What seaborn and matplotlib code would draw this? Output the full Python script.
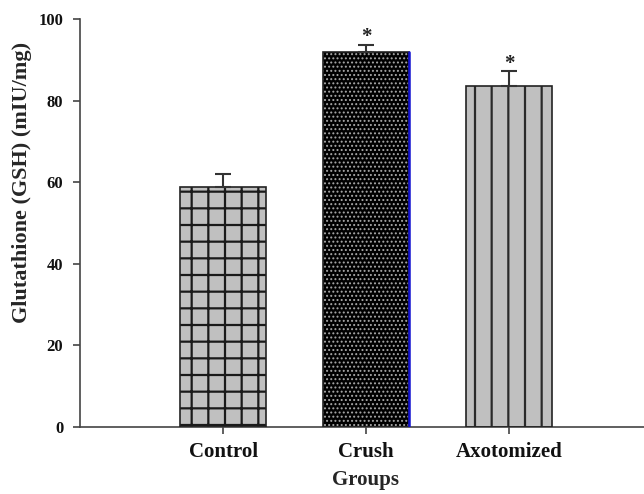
import matplotlib
matplotlib.use("Agg")
import matplotlib.pyplot as plt
import seaborn as sns
import pandas as pd

groups = ["Control", "Crush", "Axotomized"]
gsh_mean = [58.9, 91.9, 83.5]
gsh_sem = [3.0, 1.8, 3.7]
significance = ["", "*", "*"]
y_ticks = [0, 20, 40, 60, 80, 100]

sns.set_theme(style="ticks")
plt.rcParams["font.family"] = ["Liberation Serif", "DejaVu Serif"]
plt.rcParams["font.weight"] = "bold"
plt.rcParams["hatch.linewidth"] = 1.6

df = pd.DataFrame({"Group": groups, "GSH": gsh_mean})

fig = plt.figure(figsize=(6.44, 4.94), dpi=100)
ax = fig.add_axes([80 / 644, 67 / 494, 1 - 80 / 644, (427 - 19) / 494])

sns.barplot(data=df, x="Group", y="GSH", order=groups, width=0.6,
            color="#c0c0c0", errorbar=None, ax=ax, zorder=2)

styles = [
    dict(face="#c0c0c0", hatch="+", hcolor="#1a1a1a", hlw=1.6),
    dict(face="#000000", hatch="....", hcolor="#a8a8a8", hlw=0.9),
    dict(face="#c0c0c0", hatch="|", hcolor="#2a2a2a", hlw=1.6),
]
for patch, st in zip(ax.patches, styles):
    patch.set_facecolor(st["face"])
    patch.set_edgecolor(st["hcolor"])
    patch.set_hatch(st["hatch"])
    if hasattr(patch, "set_hatch_linewidth"):
        patch.set_hatch_linewidth(st["hlw"])
    patch.set_linewidth(0)
    # outline drawn on top, independent of the hatch colour
    x0, y0 = patch.get_x(), patch.get_y()
    w, h = patch.get_width(), patch.get_height()
    ax.add_patch(plt.Rectangle((x0, y0), w, h, fill=False,
                               edgecolor="#222222", linewidth=1.2, zorder=3))

# blue right edge on the Crush bar
crush = ax.patches[1]
ax.plot([crush.get_x() + crush.get_width()] * 2, [0, crush.get_height()],
        color="#1010d0", linewidth=1.8, zorder=4)

xs = range(len(groups))
ax.errorbar(list(xs), gsh_mean, yerr=[[0] * len(groups), gsh_sem],
            fmt="none", ecolor="#333333", elinewidth=1.5, capsize=6,
            capthick=1.5, zorder=4)

for x, m, e, s in zip(xs, gsh_mean, gsh_sem, significance):
    if s:
        ax.text(x, m + e - 0.6, s, ha="center", va="bottom",
                fontsize=15, color="#222222")

ax.set_xlim(-1, 2.94)
ax.set_ylim(0, 100)
ax.set_yticks(y_ticks)
ax.set_yticklabels([str(t) for t in y_ticks], fontsize=12, fontweight="bold")
ax.set_xticks(list(xs))
ax.set_xticklabels(groups, fontsize=15, fontweight="bold")
ax.set_xlabel("Groups", fontsize=15, fontweight="bold")
ax.set_ylabel("Glutathione (GSH) (mIU/mg)", fontsize=16, fontweight="bold")
ax.xaxis.set_label_coords(0.507, -0.105)
ax.yaxis.set_label_coords(-0.085, 0.6)

for side in ["top", "right"]:
    ax.spines[side].set_visible(False)
for side in ["left", "bottom"]:
    ax.spines[side].set_color("#444444")
    ax.spines[side].set_linewidth(1.2)
ax.tick_params(axis="both", direction="out", length=5, width=1.2,
               color="#444444", labelcolor="#111111")
ax.tick_params(axis="y", pad=7)
ax.tick_params(axis="x", pad=6)

fig.savefig("out.png", dpi=100)
